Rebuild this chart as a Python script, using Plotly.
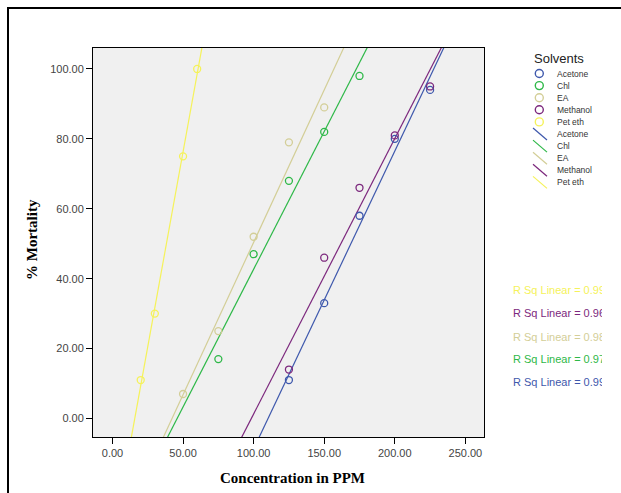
import numpy as np
import plotly.graph_objects as go

# ---------------- data ----------------
solvents = ["Acetone", "Chl", "EA", "Methanol", "Pet eth"]

acetone_x = [125, 150, 175, 200, 225]
acetone_y = [11, 33, 58, 80, 94]
chl_x = [75, 100, 125, 150, 175]
chl_y = [17, 47, 68, 82, 98]
ea_x = [50, 75, 100, 125, 150]
ea_y = [7, 25, 52, 79, 89]
methanol_x = [125, 150, 175, 200, 225]
methanol_y = [14, 46, 66, 81, 95]
peteth_x = [20, 30, 50, 60]
peteth_y = [11, 30, 75, 100]

r_sq_order = ["Pet eth", "Methanol", "EA", "Chl", "Acetone"]
r_sq_values = [0.99, 0.96, 0.98, 0.97, 0.99]

x_ticks = [0, 50, 100, 150, 200, 250]
y_ticks = [0, 20, 40, 60, 80, 100]

# ---------------- styles ----------------
colors = {
    "Acetone": "#3E58AC",
    "Chl": "#2EB848",
    "EA": "#D3CE97",
    "Methanol": "#7C287D",
    "Pet eth": "#F5F25A",
}
series = {
    "Acetone": (acetone_x, acetone_y),
    "Chl": (chl_x, chl_y),
    "EA": (ea_x, ea_y),
    "Methanol": (methanol_x, methanol_y),
    "Pet eth": (peteth_x, peteth_y),
}

W, H = 621, 493
L, R, T, B = 93, 484, 48, 437
X_RANGE = [-13.8, 263.2]
Y_RANGE = [-5.3, 106.0]


def px2x(px):
    return (px - L) / (R - L)


def px2y(py):
    return (B - py) / (B - T)


SANS = "Arial, Liberation Sans, sans-serif"
SERIF = "Times New Roman, Liberation Serif, serif"

fig = go.Figure()

# fit lines (drawn first, under markers)
for name in solvents:
    x, y = series[name]
    slope, icpt = np.polyfit(np.array(x, float), np.array(y, float), 1)
    xs = np.array([X_RANGE[0] - 20, X_RANGE[1] + 20])
    fig.add_trace(go.Scatter(
        x=xs, y=slope * xs + icpt, mode="lines",
        line=dict(color=colors[name], width=1.2),
        showlegend=False, hoverinfo="skip",
    ))

for name in solvents:
    x, y = series[name]
    fig.add_trace(go.Scatter(
        x=x, y=y, mode="markers", name=name,
        marker=dict(symbol="circle-open", size=7,
                    color=colors[name], line=dict(width=1.3, color=colors[name])),
        showlegend=False,
    ))

shapes = []
annotations = []

# outer frame
shapes.append(dict(type="rect", xref="paper", yref="paper",
                   x0=px2x(8), x1=px2x(660), y0=px2y(540), y1=px2y(8),
                   line=dict(color="black", width=2), fillcolor="rgba(0,0,0,0)",
                   layer="below"))

# manual legend
annotations.append(dict(text="Solvents", xref="paper", yref="paper",
                        x=px2x(559), y=px2y(58), xanchor="center", yanchor="middle",
                        showarrow=False, font=dict(family=SANS, size=13, color="#222")))
row_y0 = 73.5
row_dy = 12.1
for i, name in enumerate(solvents):
    cy = row_y0 + i * row_dy
    cx = 539.3
    shapes.append(dict(type="circle", xref="paper", yref="paper",
                       x0=px2x(cx - 4), x1=px2x(cx + 4),
                       y0=px2y(cy + 4), y1=px2y(cy - 4),
                       line=dict(color=colors[name], width=1.4)))
    annotations.append(dict(text=name, xref="paper", yref="paper",
                            x=px2x(555), y=px2y(cy), xanchor="left", yanchor="middle",
                            showarrow=False, font=dict(family=SANS, size=8.5, color="#333")))
for i, name in enumerate(solvents):
    cy = row_y0 + (i + 5) * row_dy
    cx = 540
    shapes.append(dict(type="line", xref="paper", yref="paper",
                       x0=px2x(cx - 7), x1=px2x(cx + 7),
                       y0=px2y(cy - 6), y1=px2y(cy + 6),
                       line=dict(color=colors[name], width=1.2)))
    annotations.append(dict(text=name, xref="paper", yref="paper",
                            x=px2x(555), y=px2y(cy), xanchor="left", yanchor="middle",
                            showarrow=False, font=dict(family=SANS, size=8.5, color="#333")))

# R Sq labels (clipped like the original)
rsq_y = [290, 313.3, 336.7, 359.3, 381.7]
for name, val, yy in zip(r_sq_order, r_sq_values, rsq_y):
    annotations.append(dict(text=f"R Sq Linear = {val:.2f}", xref="paper", yref="paper",
                            x=px2x(512), y=px2y(yy), xanchor="left", yanchor="middle",
                            width=89, align="left", borderpad=0,
                            showarrow=False, font=dict(family=SANS, size=11, color=colors[name])))

# axis titles
annotations.append(dict(text="% Mortality", xref="paper", yref="paper",
                        x=px2x(32), y=px2y(240), textangle=-90,
                        xanchor="center", yanchor="middle", showarrow=False,
                        font=dict(family=SERIF, size=15, color="black", weight="bold")))
annotations.append(dict(text="Concentration in PPM", xref="paper", yref="paper",
                        x=px2x(292), y=px2y(478), xanchor="center", yanchor="middle",
                        showarrow=False,
                        font=dict(family=SERIF, size=15, color="black", weight="bold")))

axis_common = dict(showgrid=False, zeroline=False, showline=True, linecolor="black",
                   linewidth=1, mirror=True, ticks="outside", ticklen=6, tickwidth=1,
                   tickcolor="black", tickformat=".2f",
                   tickfont=dict(family=SANS, size=11, color="#444"))

fig.update_layout(
    width=W, height=H,
    margin=dict(l=L, r=W - R, t=T, b=H - B, autoexpand=False),
    paper_bgcolor="white", plot_bgcolor="#F0F0F0",
    showlegend=False,
    xaxis=dict(range=X_RANGE, tickvals=x_ticks, **axis_common),
    yaxis=dict(range=Y_RANGE, tickvals=y_ticks, **axis_common),
    shapes=shapes, annotations=annotations,
)

fig.write_html("out.html",
               config={"displayModeBar": False},
               post_script="document.body.style.margin='0';document.body.style.overflow='hidden';")
